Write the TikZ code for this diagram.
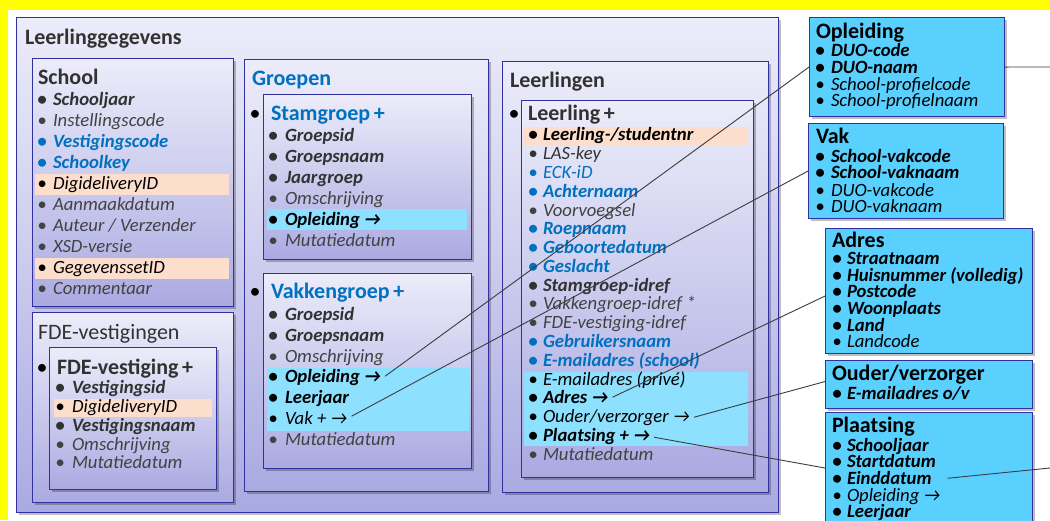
\documentclass[tikz,border=0pt]{standalone}
\usepackage{fontspec}
\setmainfont{Carlito}
\usetikzlibrary{calc,shadows}
\definecolor{gA}{RGB}{50,50,50}
\definecolor{gB}{RGB}{66,66,66}
\definecolor{blu}{RGB}{0,112,192}
\definecolor{bdr}{RGB}{48,48,160}
\definecolor{lavT}{RGB}{236,236,250}
\definecolor{lavB}{RGB}{170,170,226}
\definecolor{cyanbox}{RGB}{90,208,255}
\definecolor{cyanhl}{RGB}{142,224,255}
\definecolor{peach}{RGB}{253,222,204}
\definecolor{yel}{RGB}{255,255,0}
\definecolor{lineclr}{RGB}{60,60,60}
\newcommand\isz{\fontsize{18.7}{20}\selectfont}
\newcommand\tsz{\fontsize{22}{24}\selectfont}
\newcommand\arr{→}
\newcommand\itm[6]{%
  \node[itm,#5,anchor=base] (#1b) at (#2,#4+4) {•};
  \node[itm,#5,anchor=base west] (#1) at (#3,#4+4) {#6};}
\newcommand\ttl[5]{%
  \node[ttlnode,font=\tsz#4,anchor=base west] (#1) at (#2,#3+5) {#5};}
\newcommand\tbul[3]{%
  \node[ttlnode,font=\tsz,text=black,anchor=base] (#1) at (#2,#3+5) {•};}
\begin{document}
\begin{tikzpicture}[x=1pt,y=-1pt,
  itm/.style={inner sep=0pt,outer sep=0pt,text height=10.5pt,text depth=3pt},
  ttlnode/.style={inner sep=0pt,outer sep=0pt,text height=13pt,text depth=4pt},
  BI/.style={font=\isz\bfseries\itshape},
  IT/.style={font=\isz\itshape},
  g1/.style={text=gA}, g2/.style={text=gB}, bl/.style={text=blu}, bk/.style={text=black},
  lav/.style={draw=bdr,line width=1.1pt,top color=lavT,bottom color=lavB,anchor=north west,inner sep=0pt,
    drop shadow={shadow xshift=2pt,shadow yshift=-2pt,opacity=0.25,fill=black}},
  cbox/.style={draw=bdr,line width=1.1pt,fill=cyanbox,anchor=north west,inner sep=0pt,
    drop shadow={shadow xshift=2pt,shadow yshift=-2pt,opacity=0.25,fill=black}},
  hlp/.style={fill=peach,draw=none},
  hlc/.style={fill=cyanhl,draw=none},
  conn/.style={draw=lineclr,line width=0.9pt}]
\useasboundingbox (0,0) rectangle (1050,520);
\fill[white] (0,0) rectangle (1050,520);
\fill[yel] (0,0) rectangle (1050,10);
\fill[yel] (0,0) rectangle (8,520);
% boxes
\node[lav,minimum width=762pt,minimum height=495pt] (outer) at (16,17) {};
\node[lav,minimum width=201pt,minimum height=248pt] (school) at (32,58) {};
\node[lav,minimum width=201pt,minimum height=190pt] (fdeO) at (32,312) {};
\node[lav,minimum width=167pt,minimum height=142pt] (fdeI) at (49,347) {};
\node[lav,minimum width=244pt,minimum height=432pt] (groepen) at (244,59) {};
\node[lav,minimum width=208pt,minimum height=165pt] (stam) at (263,94) {};
\node[lav,minimum width=208pt,minimum height=195pt] (vakken) at (263,273) {};
\node[lav,minimum width=266pt,minimum height=431pt] (leerlingen) at (502,61) {};
\node[lav,minimum width=232pt,minimum height=377pt] (leerling) at (521,100) {};
\node[cbox,minimum width=195pt,minimum height=99pt] (opl) at (809,17) {};
\node[cbox,minimum width=195pt,minimum height=95pt] (vak) at (808,123) {};
\node[cbox,minimum width=207pt,minimum height=125pt] (adres) at (825,228) {};
\node[cbox,minimum width=207pt,minimum height=48pt] (ouder) at (825,360) {};
\node[cbox,minimum width=207pt,minimum height=130pt] (plaats) at (825,412) {};
% highlights
\fill[hlp] (35,174) rectangle (229,195);
\fill[hlp] (35,258) rectangle (229,279);
\fill[hlp] (54,399) rectangle (212,417);
\fill[hlc] (267,209) rectangle (467,230);
\fill[hlc] (267,368) rectangle (469,431);
\fill[hlp] (524,127) rectangle (748,146);
\fill[hlc] (524,372) rectangle (748,446);
% titles
\ttl{tLg}{25}{39}{\bfseries\color{gA}}{Leerlinggegevens}
\ttl{tSchool}{38}{79}{\bfseries\color{gA}}{School}
\ttl{tFdeO}{38}{334}{\color{gA}}{FDE-vestigingen}
\tbul{bFde}{42}{369}
\ttl{tFde}{57}{369}{\bfseries\color{gA}}{FDE-vestiging\,+}
\ttl{tGroepen}{252}{80}{\bfseries\color{blu}}{Groepen}
\tbul{bStam}{255}{115}
\ttl{tStam}{271}{115}{\bfseries\color{blu}}{Stamgroep\,+}
\tbul{bVakken}{255}{293}
\ttl{tVakken}{271}{293}{\bfseries\color{blu}}{Vakkengroep\,+}
\ttl{tLln}{510}{82}{\bfseries\color{gA}}{Leerlingen}
\tbul{bLl}{514}{115}
\ttl{tLl}{528}{115}{\bfseries\color{gA}}{Leerling\,+}
\ttl{tOpl}{816}{33}{\bfseries\color{black}}{Opleiding}
\ttl{tVak}{816}{138}{\bfseries\color{black}}{Vak}
\ttl{tAdres}{832}{242}{\bfseries\color{black}}{Adres}
\ttl{tOuder}{832}{375}{\bfseries\color{black}}{Ouder/verzorger}
\ttl{tPlaats}{832}{427}{\bfseries\color{black}}{Plaatsing}
% School
\itm{s1}{42}{53}{101}{BI,g1}{Schooljaar}
\itm{s2}{42}{53}{122}{IT,g2}{Instellingscode}
\itm{s3}{42}{53}{143}{BI,bl}{Vestigingscode}
\itm{s4}{42}{53}{164}{BI,bl}{Schoolkey}
\itm{s5}{42}{53}{185}{IT,bk}{DigideliveryID}
\itm{s6}{42}{53}{206}{IT,g2}{Aanmaakdatum}
\itm{s7}{42}{53}{227}{IT,g2}{Auteur / Verzender}
\itm{s8}{42}{53}{248}{IT,g2}{XSD-versie}
\itm{s9}{42}{53}{269}{IT,bk}{GegevenssetID}
\itm{s10}{42}{53}{290}{IT,g2}{Commentaar}
% FDE
\itm{f1}{60}{72}{389}{BI,g1}{Vestigingsid}
\itm{f2}{60}{72}{408}{IT,bk}{DigideliveryID}
\itm{f3}{60}{72}{427}{BI,g1}{Vestigingsnaam}
\itm{f4}{60}{72}{446}{IT,g2}{Omschrijving}
\itm{f5}{60}{72}{464}{IT,g2}{Mutatiedatum}
% Stamgroep
\itm{sg1}{273}{285}{137}{BI,g1}{Groepsid}
\itm{sg2}{273}{285}{158}{BI,g1}{Groepsnaam}
\itm{sg3}{273}{285}{179}{BI,g1}{Jaargroep}
\itm{sg4}{273}{285}{200}{IT,g2}{Omschrijving}
\itm{sgOpl}{273}{285}{221}{BI,bk}{Opleiding \arr}
\itm{sg6}{273}{285}{242}{IT,g2}{Mutatiedatum}
% Vakkengroep
\itm{vg1}{273}{285}{316}{BI,g1}{Groepsid}
\itm{vg2}{273}{285}{337}{BI,g1}{Groepsnaam}
\itm{vg3}{273}{285}{358}{IT,g2}{Omschrijving}
\itm{vgOpl}{273}{285}{378}{BI,bk}{Opleiding \arr}
\itm{vg5}{273}{285}{399}{BI,bk}{Leerjaar}
\itm{vgVak}{273}{285}{420}{IT,bk}{Vak + \arr}
\itm{vg7}{273}{285}{441}{IT,g2}{Mutatiedatum}
% Leerling
\itm{l1}{533}{543}{136}{BI,bk}{Leerling-/studentnr}
\itm{l2}{533}{543}{155}{IT,g1}{LAS-key}
\itm{l3}{533}{543}{174}{IT,bl}{ECK-iD}
\itm{l4}{533}{543}{193}{BI,bl}{Achternaam}
\itm{l5}{533}{543}{212}{IT,g2}{Voorvoegsel}
\itm{l6}{533}{543}{230}{BI,bl}{Roepnaam}
\itm{l7}{533}{543}{249}{BI,bl}{Geboortedatum}
\itm{l8}{533}{543}{268}{BI,bl}{Geslacht}
\itm{l9}{533}{543}{287}{BI,g1}{Stamgroep-idref}
\itm{l10}{533}{543}{305}{IT,g2}{Vakkengroep-idref *}
\itm{l11}{533}{543}{324}{IT,g2}{FDE-vestiging-idref}
\itm{l12}{533}{543}{343}{BI,bl}{Gebruikersnaam}
\itm{l13}{533}{543}{362}{BI,bl}{E-mailadres (school)}
\itm{l14}{533}{543}{381}{IT,bk}{E-mailadres (privé)}
\itm{lAdres}{533}{543}{399}{BI,bk}{Adres \arr}
\itm{lOuder}{533}{543}{418}{IT,bk}{Ouder/verzorger \arr}
\itm{lPlaats}{533}{543}{437}{BI,bk}{Plaatsing + \arr}
\itm{l18}{533}{543}{456}{IT,g2}{Mutatiedatum}
% Opleiding
\itm{o1}{820}{831}{52}{BI,bk}{DUO-code}
\itm{o2}{820}{831}{69}{BI,bk}{DUO-naam}
\itm{o3}{820}{831}{86}{IT,bk}{School-profielcode}
\itm{o4}{820}{831}{102}{IT,bk}{School-profielnaam}
% Vak
\itm{v1}{820}{831}{158}{BI,bk}{School-vakcode}
\itm{v2}{820}{831}{174}{BI,bk}{School-vaknaam}
\itm{v3}{820}{831}{192}{IT,bk}{DUO-vakcode}
\itm{v4}{820}{831}{208}{IT,bk}{DUO-vaknaam}
% Adres
\itm{a1}{837}{847}{260}{BI,bk}{Straatnaam}
\itm{a2}{837}{847}{277}{BI,bk}{Huisnummer (volledig)}
\itm{a3}{837}{847}{293}{BI,bk}{Postcode}
\itm{a4}{837}{847}{310}{BI,bk}{Woonplaats}
\itm{a5}{837}{847}{327}{BI,bk}{Land}
\itm{a6}{837}{847}{343}{IT,bk}{Landcode}
% Ouder
\itm{ov1}{837}{847}{395}{BI,bk}{E-mailadres o/v}
% Plaatsing
\itm{p1}{837}{847}{447}{BI,bk}{Schooljaar}
\itm{p2}{837}{847}{463}{BI,bk}{Startdatum}
\itm{pEind}{837}{847}{480}{BI,bk}{Einddatum}
\itm{p4}{837}{847}{497}{IT,bk}{Opleiding \arr}
\itm{p5}{837}{847}{513}{BI,bk}{Leerjaar}
% connectors
\coordinate (oplOut) at (1050,67);
\coordinate (eindOut) at (1050,468);
\coordinate (plIn) at ($(plaats.north west)+(0,56)$);
\draw[conn] ($(vgOpl.east)+(4,-2)$) -- (opl.west);
\draw[conn] ($(vgVak.east)+(4,-4)$) -- (vak.west);
\draw[conn] ($(lAdres.east)+(4,-2)$) -- ($(adres.west)+(0,5)$);
\draw[conn] ($(lOuder.east)+(4,-1)$) -- ($(ouder.west)+(0,-3)$);
\draw[conn] ($(lPlaats.east)+(4,0)$) -- (plIn);
\draw[conn] (opl.east) -- (oplOut);
\draw[conn] ($(pEind.east)+(16,-2)$) -- (eindOut);
\end{tikzpicture}
\end{document}
